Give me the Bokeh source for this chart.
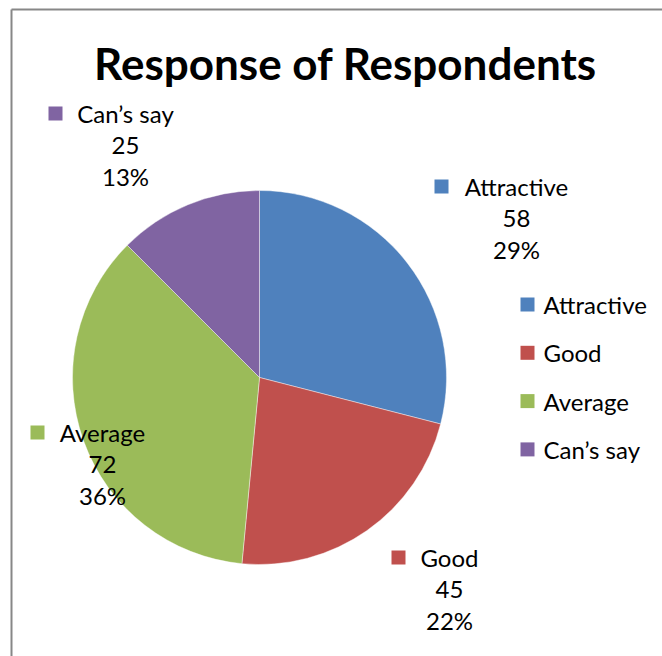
import math
from bokeh.plotting import figure
from bokeh.models import Range1d, ColumnDataSource
from bokeh.core.properties import value
from bokeh.embed import file_html
from bokeh.resources import INLINE

# ---- data ----
categories = ["Attractive", "Good", "Average", "Can\u2019s say"]
counts = [58, 45, 72, 25]
pct_labels = ["29%", "22%", "36%", "13%"]
colors = ["#4F81BD", "#C0504D", "#9BBB59", "#8064A2"]
title = "Response of Respondents"

# ---- layout (screen pixels, y measured from the top) ----
W, H = 662, 656
FONT = "Lato"
cx, cy, R = 259, 377, 187
label_cx = [516, 449, 102, 125]
label_y1 = [186, 557, 432, 113]
label_sq_x = [441, 398, 37, 55]
line_gap = 31.5
leg_sq_x, leg_txt_x, leg_y0, leg_dy = 527, 543, 304, 48.3


def fy(y):
    return H - y


p = figure(width=W, height=H, output_backend="svg", toolbar_location=None,
           x_range=Range1d(0, W), y_range=Range1d(0, H), min_border=0)
p.axis.visible = False
p.grid.visible = False
p.outline_line_color = None
p.background_fill_color = "white"
p.border_fill_color = "white"

# pie wedges
total = sum(counts)
starts, ends = [], []
acc = 0
for v in counts:
    starts.append(math.pi / 2 - 2 * math.pi * acc / total)
    acc += v
    ends.append(math.pi / 2 - 2 * math.pi * acc / total)
src = ColumnDataSource(dict(start=starts, end=ends, color=colors))
p.wedge(x=cx, y=fy(cy), radius=R, radius_units="screen",
        start_angle="start", end_angle="end", direction="clock",
        fill_color="color", line_color="white", line_width=0.6, line_alpha=0.7,
        source=src)

# data labels
lab = ColumnDataSource(dict(
    x=label_cx,
    y1=[fy(y) for y in label_y1],
    y2=[fy(y + line_gap) for y in label_y1],
    y3=[fy(y + 2 * line_gap) for y in label_y1],
    sx=label_sq_x,
    cat=categories,
    val=[str(v) for v in counts],
    pct=pct_labels,
    color=colors,
))
for ycol, tcol in (("y1", "cat"), ("y2", "val"), ("y3", "pct")):
    p.text(x="x", y=ycol, text=tcol, source=lab, text_align="center",
           text_baseline="middle", text_font=value(FONT),
           text_font_size="24px", text_color="black")
p.scatter(x="sx", y="y1", source=lab, marker="square", size=14,
          fill_color="color", line_color=None)

# legend
leg = ColumnDataSource(dict(
    x=[leg_sq_x] * len(categories),
    tx=[leg_txt_x] * len(categories),
    y=[fy(leg_y0 + i * leg_dy) for i in range(len(categories))],
    cat=categories,
    color=colors,
))
p.scatter(x="x", y="y", source=leg, marker="square", size=14,
          fill_color="color", line_color=None)
p.text(x="tx", y="y", text="cat", source=leg, text_align="left",
       text_baseline="middle", text_font=value(FONT),
       text_font_size="24px", text_color="black")

# title
p.text(x=[345], y=[fy(62)], text=[title], text_align="center",
       text_baseline="middle", text_font=value(FONT),
       text_font_size="44px", text_font_style="bold", text_color="black")

# chart border (top and left edges visible)
p.segment(x0=[11, 11], y0=[fy(9), fy(9)], x1=[W, 11], y1=[fy(9), 0],
          line_color="#878787", line_width=2)

open("out.html", "w").write(file_html(p, INLINE))
